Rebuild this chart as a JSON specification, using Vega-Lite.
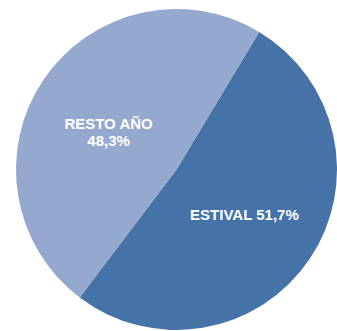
{
  "$schema": "https://vega.github.io/schema/vega-lite/v6.json",
  "width": 321,
  "height": 321,
  "padding": {"left": 16, "top": 9, "right": 0, "bottom": 1},
  "background": "white",
  "config": {"view": {"stroke": null}},
  "data": {
    "values": [
      {"periodo": "ESTIVAL", "valor": 51.7, "etiqueta": "ESTIVAL 51,7%"},
      {"periodo": "RESTO AÑO", "valor": 48.3, "etiqueta": "RESTO AÑO\n48,3%"}
    ]
  },
  "encoding": {
    "theta": {"field": "valor", "type": "quantitative", "stack": true, "scale": {"range": [0.541, 6.824]}},
    "color": {
      "field": "periodo",
      "type": "nominal",
      "scale": {"domain": ["ESTIVAL", "RESTO AÑO"], "range": ["#4573A7", "#95A9CF"]},
      "legend": null
    }
  },
  "layer": [
    {"mark": {"type": "arc", "outerRadius": 160.5}},
    {
      "mark": {
        "type": "text",
        "radius": 82,
        "font": "Liberation Sans",
        "fontWeight": "bold",
        "fontSize": 15,
        "lineBreak": "\n",
        "lineHeight": 17,
        "fill": "white"
      },
      "encoding": {
        "text": {"field": "etiqueta", "type": "nominal"},
        "color": {"value": "white"}
      }
    }
  ]
}
